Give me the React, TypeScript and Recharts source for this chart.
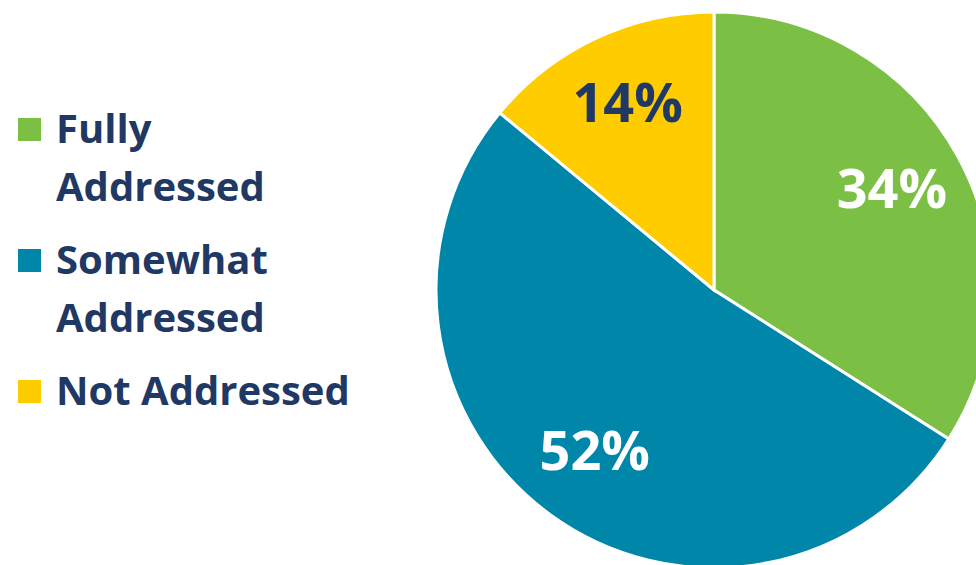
import { PieChart, Pie, Cell, Legend } from "recharts";

// Share of items by how well they were addressed
const categories = ["Fully Addressed", "Somewhat Addressed", "Not Addressed"];
const shares = [34, 52, 14];
const legendLines = [["Fully", "Addressed"], ["Somewhat", "Addressed"], ["Not Addressed"]];

const COLORS = ["#7BBF44", "#0086A8", "#FFCC00"];
const LABEL_COLORS = ["#FFFFFF", "#FFFFFF", "#1F3864"];
const NAVY = "#1F3864";
const FONT = "'Open Sans', 'Noto Sans', sans-serif";

const data = categories.map((name, i) => ({ name, value: shares[i] }));

const RAD = Math.PI / 180;

function SliceLabel(props: any) {
  const { cx, cy, midAngle, outerRadius, index, value } = props;
  const r = outerRadius * 0.73;
  const x = cx + r * Math.cos(-midAngle * RAD);
  const y = cy + r * Math.sin(-midAngle * RAD) - 5;
  return (
    <text
      x={x}
      y={y}
      fill={LABEL_COLORS[index]}
      textAnchor="middle"
      dominantBaseline="central"
      fontFamily={FONT}
      fontWeight={700}
      fontSize={54}
    >
      {`${value}%`}
    </text>
  );
}

function LegendBlock() {
  return (
    <div style={{ fontFamily: FONT, fontWeight: 700, fontSize: 40, color: NAVY }}>
      {legendLines.map((lines, i) => (
        <div key={i} style={{ position: "relative", paddingLeft: 56, marginBottom: 15, lineHeight: "58px" }}>
          <span
            style={{
              position: "absolute",
              left: 18,
              top: 19,
              width: 23,
              height: 23,
              background: COLORS[i],
            }}
          />
          {lines.map((l, j) => (
            <div key={j} style={{ whiteSpace: "nowrap" }}>{l}</div>
          ))}
        </div>
      ))}
    </div>
  );
}

export default function App() {
  return (
    <div style={{ width: 976, height: 565, background: "#fff", position: "relative", overflow: "hidden" }}>
      <style>{"body{margin:0}"}</style>
      <PieChart width={976} height={565} margin={{ top: 0, right: 0, bottom: 0, left: 0 }}>
        <Pie
          data={data}
          dataKey="value"
          nameKey="name"
          cx={714}
          cy={290}
          outerRadius={278}
          startAngle={90}
          endAngle={-270}
          stroke="#FFFFFF"
          strokeWidth={3}
          label={SliceLabel}
          labelLine={false}
          isAnimationActive={false}
        >
          {data.map((d, i) => (
            <Cell key={d.name} fill={COLORS[i]} />
          ))}
        </Pie>
        <Legend
          layout="vertical"
          content={() => <LegendBlock />}
          wrapperStyle={{ position: "absolute", left: 0, top: 99, width: 380 }}
        />
      </PieChart>
    </div>
  );
}
